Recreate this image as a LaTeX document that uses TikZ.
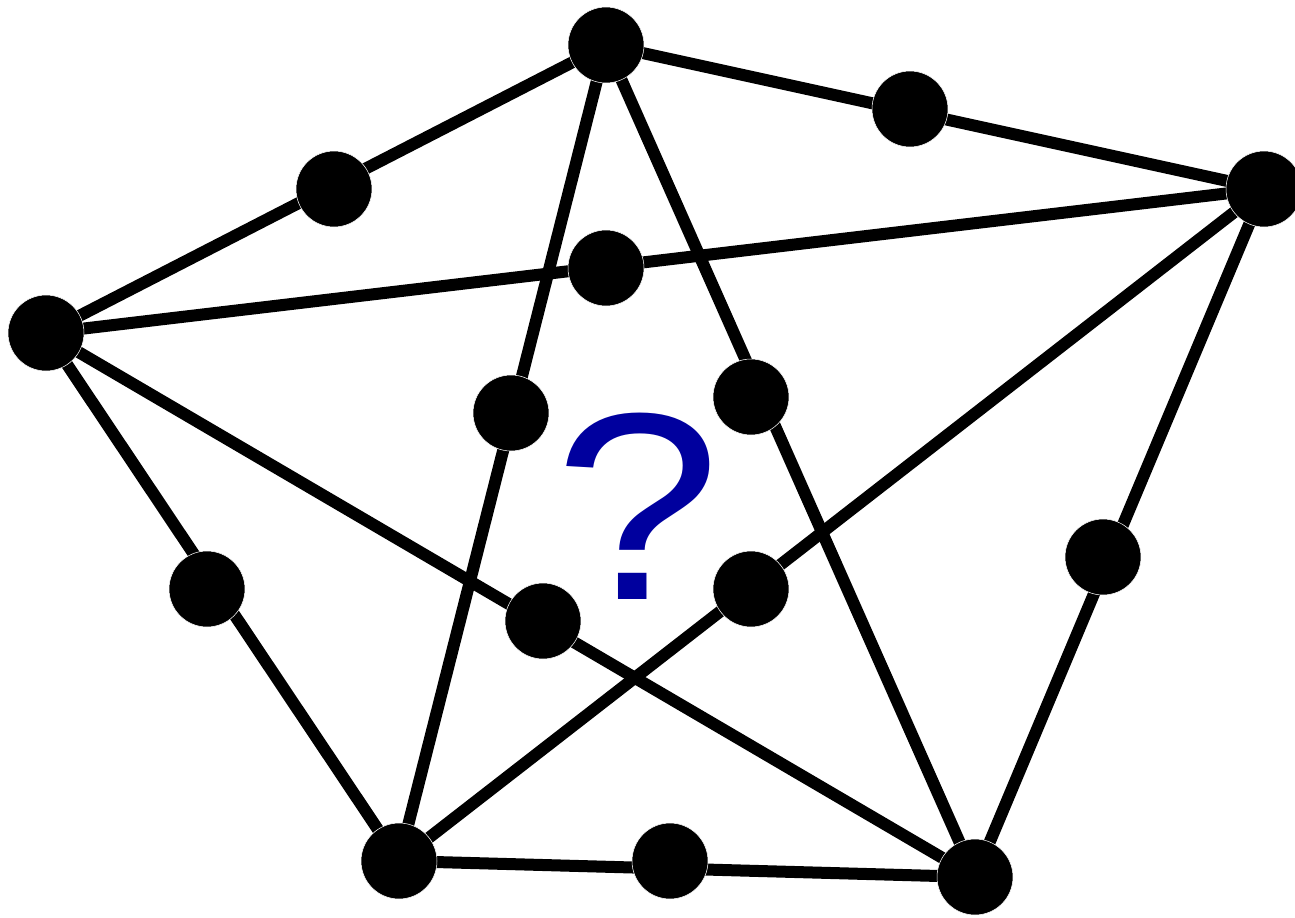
\documentclass[tikz,border=0pt]{standalone}
\usepackage{fontspec}
\usepackage{tikz}
\usetikzlibrary{backgrounds}
\newfontfamily\qfont{Liberation Sans}
\definecolor{qblue}{RGB}{0,0,158}

\begin{document}
\begin{tikzpicture}[
  x=0.02cm, y=-0.02cm,
  vert/.style={circle, fill=black, draw=white, line width=0.3pt,
    inner sep=0pt, minimum size=1.52cm},
  edge/.style={line width=0.24cm, black},
  qmark/.style={inner sep=0pt, text=qblue, font=\qfont\fontsize{152}{152}\selectfont}
]
\useasboundingbox (0,0) rectangle (1295,917);

% Corners
\node[vert] (top) at (606,45) {};
\node[vert] (rgt) at (1264,189) {};
\node[vert] (brt) at (975,877) {};
\node[vert] (blt) at (399,861) {};
\node[vert] (lft) at (46,333) {};

% Subdivision points
\node[vert] (tl) at (334,189) {};
\node[vert] (tr) at (910,109) {};
\node[vert] (lr) at (606,268) {};
\node[vert] (tb) at (511,413) {};
\node[vert] (tc) at (751,397) {};
\node[vert] (lb) at (207,589) {};
\node[vert] (lc) at (543,621) {};
\node[vert] (rb) at (751,589) {};
\node[vert] (rc) at (1103,557) {};
\node[vert] (bb) at (670,861) {};

% Question
\node[qmark, xscale=1.12] (q) at (638,506) {?};

% Edges
\begin{scope}[on background layer]
\draw[edge] (top.center) -- (lft.center);
\draw[edge] (top.center) -- (rgt.center);
\draw[edge] (lft.center) -- (rgt.center);
\draw[edge] (top.center) -- (blt.center);
\draw[edge] (top.center) -- (brt.center);
\draw[edge] (lft.center) -- (blt.center);
\draw[edge] (lft.center) -- (brt.center);
\draw[edge] (rgt.center) -- (blt.center);
\draw[edge] (rgt.center) -- (brt.center);
\draw[edge] (blt.center) -- (brt.center);
\end{scope}

\end{tikzpicture}
\end{document}
